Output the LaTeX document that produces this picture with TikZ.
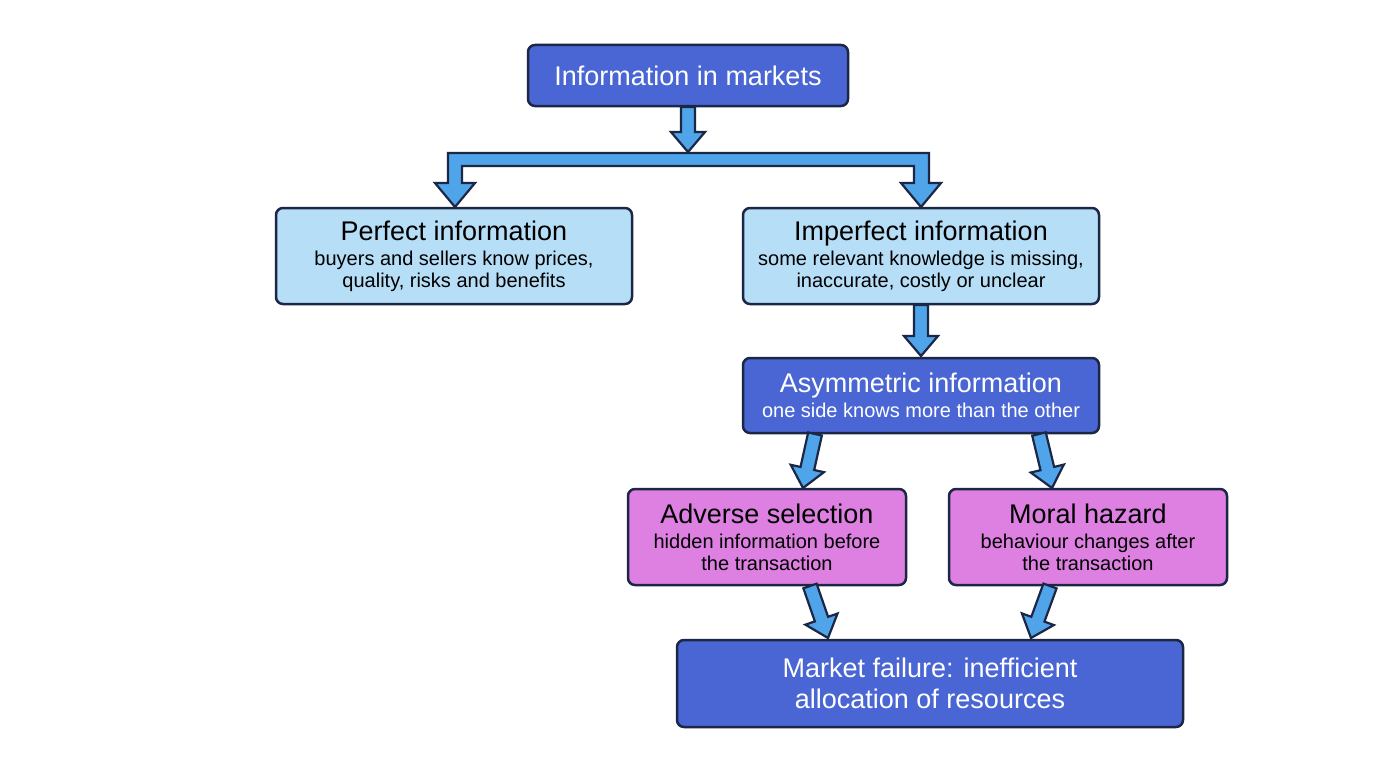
\documentclass[tikz,border=0pt]{standalone}
\usepackage{fontspec}
\setmainfont{Liberation Sans}
\usetikzlibrary{calc}
\definecolor{dblue}{HTML}{4A66D4}
\definecolor{lblue}{HTML}{B6DEF7}
\definecolor{mag}{HTML}{DD80E2}
\definecolor{edge}{HTML}{1B2745}
\definecolor{arrc}{HTML}{4FA4EA}
\tikzset{
 box/.style={draw=edge,line width=2.5pt,rounded corners=7pt,align=center,inner sep=0pt,font=\fontsize{20}{22}\selectfont},
 dk/.style={box,fill=dblue,text=white},
 lt/.style={box,fill=lblue,text=black},
 mg/.style={box,fill=mag,text=black},
 arr/.style={draw=edge,fill=arrc,line width=2.2pt,line join=miter},
}
\newcommand\T[1]{{\fontsize{27}{29}\selectfont #1}}
\newcommand\barrow[2]{%
 \coordinate (h) at ($(#2)!20pt!(#1)$);
 \draw[arr] ($(#1)!7pt!90:(#2)$) -- ($(h)!7pt!-90:(#1)$) -- ($(h)!17pt!-90:(#1)$) -- (#2)
   -- ($(h)!17pt!90:(#1)$) -- ($(h)!7pt!90:(#1)$) -- ($(#1)!7pt!-90:(#2)$) -- cycle;}
\begin{document}
\begin{tikzpicture}[x=1pt,y=-1pt]
\useasboundingbox (0,0) rectangle (1376,768);
\fill[white] (0,0) rectangle (1376,768);
\node[dk,minimum width=320pt,minimum height=61pt] (top) at (688,75.5) {\T{Information in markets}};
\node[lt,minimum width=356pt,minimum height=96pt] (perf) at (454,256) {\T{Perfect information}\\[3pt]buyers and sellers know prices,\\quality, risks and benefits};
\node[lt,minimum width=356pt,minimum height=96pt] (imp) at (921,256) {\T{Imperfect information}\\[3pt]some relevant knowledge is missing,\\inaccurate, costly or unclear};
\node[dk,minimum width=356pt,minimum height=75pt] (asym) at (921,395.5) {\T{Asymmetric information}\\[3pt]one side knows more than the other};
\node[mg,minimum width=278pt,minimum height=96pt] (adv) at (767,537) {\T{Adverse selection}\\[3pt]hidden information before\\the transaction};
\node[mg,minimum width=278pt,minimum height=96pt] (mor) at (1088,537) {\T{Moral hazard}\\[3pt]behaviour changes after\\the transaction};
\node[dk,minimum width=506pt,minimum height=87pt,font=\fontsize{27}{31}\selectfont] (mkt) at (930,683.5) {Market failure: inefficient\\allocation of resources};
% fork
\coordinate (t1) at (688,107); \coordinate (t2) at (688,152);
\barrow{t1}{t2}
\draw[arr] (448,153) -- (929,153) -- (929,183) -- (941,183) -- (921,207) -- (901,183) -- (914,183) -- (914,166) -- (462,166) -- (462,183) -- (475,183) -- (455,207) -- (435,183) -- (448,183) -- cycle;
\coordinate (a1) at (921,305); \coordinate (a2) at (921,356);
\barrow{a1}{a2}
\coordinate (b1) at (815,434); \coordinate (b2) at (803,488);
\barrow{b1}{b2}
\coordinate (c1) at (1039,434); \coordinate (c2) at (1052,488);
\barrow{c1}{c2}
\coordinate (d1) at (810,586); \coordinate (d2) at (828,638);
\barrow{d1}{d2}
\coordinate (e1) at (1050,586); \coordinate (e2) at (1031,638);
\barrow{e1}{e2}
\end{tikzpicture}
\end{document}
